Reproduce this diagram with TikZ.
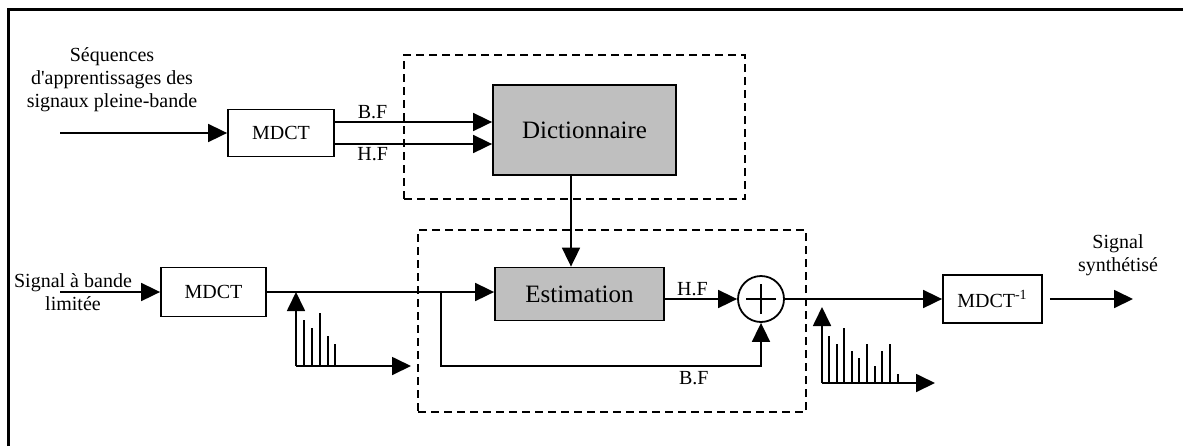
\documentclass[tikz,border=0pt]{standalone}
\usepackage{fontspec}
\setmainfont{Liberation Serif}
\usetikzlibrary{arrows.meta,positioning,shapes.geometric}
\tikzset{
  >={Triangle[length=9.5pt,width=9pt]},
  bloc/.style={
    rectangle,
    draw=black, line width=0.9pt,
    inner sep=0pt,
    font=\fontsize{10}{12}\selectfont},
  grisbloc/.style={
    bloc,
    fill=black!25,
    font=\fontsize{12.5}{15}\selectfont},
  ligne/.style={draw, line width=0.9pt},
  fleche/.style={ligne, ->},
  raie/.style={draw, line width=0.6pt},
  zone/.style={draw, line width=0.9pt, dash pattern=on 4pt off 2.5pt},
  etiq/.style={font=\fontsize{10}{11.5}\selectfont, inner sep=1pt},
  somme/.style={circle, draw, line width=0.9pt, minimum size=23pt, inner sep=0pt},
}
\begin{document}
\begin{tikzpicture}[x=0.5pt,y=-0.5pt]
  \useasboundingbox (0,0) rectangle (1183,446);
  % cadre
  \draw[line width=1.5pt] (8,446) -- (8,9) -- (1183,9);
  %% apprentissage
  \node[etiq, align=center] (seq) at (112,80) {Séquences\\d\textquotesingle apprentissages des\\signaux pleine-bande};
  \node[bloc, minimum width=53pt, minimum height=23.5pt] (mdctA) at (281,133) {MDCT};
  \node[grisbloc, minimum width=91.5pt, minimum height=45pt] (dico) at (584.5,130) {Dictionnaire};
  \node[zone, minimum width=170.5pt, minimum height=72pt] (zoneA) at (574.5,127) {};
  \coordinate (entA) at (60,133);
  \draw[fleche] (entA) -- (mdctA.west);
  \coordinate (bfA) at ([yshift=5.5pt]mdctA.east);
  \coordinate (hfA) at ([yshift=-5.5pt]mdctA.east);
  \draw[fleche] (bfA) -- node[etiq, pos=0.24, above] {B.F} (bfA -| dico.west);
  \draw[fleche] (hfA) -- node[etiq, pos=0.24, below] {H.F} (hfA -| dico.west);
  %% estimation
  \node[etiq, align=center] (sigB) at (73,292) {Signal à bande\\limitée};
  \node[bloc, minimum width=52.5pt, minimum height=24.5pt] (mdctB) at (213.5,292) {MDCT};
  \node[grisbloc, minimum width=84.5pt, minimum height=26.5pt] (estim) at (579.5,294) {Estimation};
  \node[somme] (somme) at (761,299) {};
  \draw[line width=0.9pt] ([xshift=-7.5pt]somme.center) -- ([xshift=7.5pt]somme.center)
    ([yshift=-7.5pt]somme.center) -- ([yshift=7.5pt]somme.center);
  \node[zone, minimum width=194pt, minimum height=91pt] (zoneB) at (612,321) {};
  \node[bloc, minimum width=49.5pt, minimum height=24pt] (mdctC) at (992.5,299) {MDCT\textsuperscript{-1}};
  \node[etiq, align=center] (sigC) at (1118,255) {Signal\\synthétisé};
  \coordinate (entB) at (60,292);
  \draw[fleche] (entB) -- (mdctB.west);
  \coordinate (desc) at ([xshift=-6.75pt]dico.south);
  \draw[fleche] (desc) -- (desc |- estim.north);
  \draw[fleche] (mdctB.east) -- (mdctB.east -| estim.west);
  \coordinate (bas) at (441,366);
  \draw[fleche] (bas |- mdctB.east) -- (bas)
    -- node[etiq, pos=0.79, below, yshift=-1pt] {B.F} (bas -| somme.south) -- (somme.south);
  \draw[fleche] (somme.west -| estim.east) -- node[etiq, pos=0.38, above] {H.F} (somme.west);
  \draw[fleche] (somme.east) -- (mdctC.west);
  \coordinate (sortie) at (1133,299);
  \draw[fleche, shorten <=3.5pt] (mdctC.east) -- (sortie);
  %% spectres
  \coordinate (specA) at (296,366);
  \draw[fleche] (specA) -- (296,292);
  \draw[fleche] (specA) -- (411,366);
  \foreach \x/\h in {304/320,312/328,320/313,328/336,335/344}
    \draw[raie] (\x,366) -- (\x,\h);
  \coordinate (specB) at (822,383);
  \draw[fleche] (specB) -- (822,307);
  \draw[fleche] (specB) -- (935,383);
  \foreach \x/\h in {829/336,837/344,844/328,852/351,859/358,867/344,875/366,882/351,890/344,898/374}
    \draw[raie] (\x,383) -- (\x,\h);
\end{tikzpicture}
\end{document}
